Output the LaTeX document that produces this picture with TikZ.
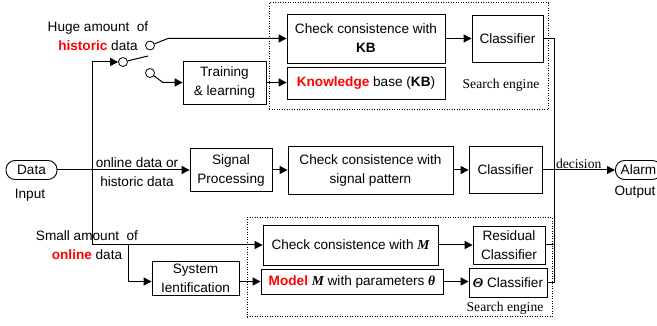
\documentclass[tikz,border=0pt]{standalone}
\usepackage{fontspec}
\setmainfont{Liberation Sans}
\newfontfamily\serifft{Liberation Serif}
\usetikzlibrary{arrows.meta}
\newcommand{\mathv}[1]{{\serifft\bfseries\itshape #1}}
\begin{document}
\begin{tikzpicture}[x=1pt,y=-1pt,
  every node/.style={font=\fontsize{13.6}{19}\selectfont, inner sep=1pt, align=center},
  box/.style={draw, line width=0.8pt},
  pill/.style={draw, rounded corners=9pt, line width=0.9pt},
  zone/.style={draw, line width=1pt, dash pattern=on 1pt off 1.5pt},
  contact/.style={draw, circle, fill=white, minimum size=9pt, inner sep=0pt, line width=0.8pt},
  conn/.style={line width=1pt, -{Triangle[length=8pt,width=8pt]}},
  wire/.style={line width=1pt},
  lab/.style={font={\serifft\fontsize{13.6}{19}\selectfont}},
]
\useasboundingbox (0,0) rectangle (657,326);

% search engine zones
\node[zone, minimum width=279, minimum height=107] (zoneA) at (408.5,56.5) {};
\node[zone, minimum width=305, minimum height=99] (zoneB) at (399.5,267.5) {};

% top branch
\node[box, minimum width=158, minimum height=49] (ckKB) at (366,38.5) {Check consistence with\\\textbf{KB}};
\node[box, minimum width=158, minimum height=32] (kb) at (366,83) {{\color{red}\bfseries Knowledge} base (\textbf{KB})};
\node[box, minimum width=71, minimum height=47] (cls1) at (507.5,38.5) {Classifier};
\node[box, minimum width=83, minimum height=43] (train) at (224.5,82.5) {Training\\\& learning};
\node[lab] (se1) at (501,85) {Search engine};

% middle branch
\node[pill, minimum width=51, minimum height=19] (data) at (31.5,170) {Data};
\node[box, minimum width=82, minimum height=43] (sig) at (231,170) {Signal\\Processing};
\node[box, minimum width=165, minimum height=48] (ckSig) at (370.5,170) {Check consistence with\\signal pattern};
\node[box, minimum width=73, minimum height=47] (cls2) at (505.5,170) {Classifier};
\node[pill, minimum width=46, minimum height=19, anchor=west] (alarm) at (615,170) {Alarm};

% bottom branch
\node[box, minimum width=175, minimum height=40] (ckM) at (350.5,245) {Check consistence with \mathv{M}};
\node[box, minimum width=182, minimum height=25] (model) at (352,281.5) {{\color{red}\bfseries Model} \mathv{M} with parameters \mathv{θ}};
\node[box, minimum width=72, minimum height=38] (res) at (509,245) {Residual\\Classifier};
\node[box, minimum width=78, minimum height=29] (theta) at (508,282.5) {\mathv{Θ} Classifier};
\node[box, minimum width=87, minimum height=34] (sysid) at (195.5,278) {System\\Ientification};
\node[lab] (se2) at (505,308) {Search engine};

% labels
\node (lblHuge) at (98,36.5) {Huge amount\ \ of\\{\color{red}\bfseries historic} data};
\node (lblSmall) at (87,245.5) {Small amount\ \ of\\{\color{red}\bfseries online} data};
\node (lblOn) at (137,172.5) {online data or\\historic data};
\node (lblIn) at (30,195) {Input};
\node (lblOut) at (635,192) {Output};

% switch
\node[contact] (piv) at (123,62) {};
\node[contact] (ct) at (150,45.5) {};
\node[contact] (cb) at (150,73) {};
\coordinate (lev) at (148,56);
\coordinate (bend1) at (168,38.5);
\coordinate (bend2) at (163,82.5);
\draw[wire] (piv) -- (lev);
\draw[conn] (ct) -- (bend1) -- (ckKB.west);
\draw[conn] (cb) -- (bend2) -- (train.west);
\draw[conn] (train.east) -- (train.east -| kb.west);
\draw[conn] (ckKB) -- (cls1);

% input bus
\coordinate (busTop) at (92,62);
\coordinate (busBot) at (92,245);
\coordinate (br) at (128,245);
\draw[conn] (busTop) -- (piv);
\draw[wire] (busTop) -- (busBot);
\draw[conn] (data) -- (sig);
\draw[conn] (busBot) -- (ckM.west);
\draw[conn] (br) |- (sysid.west |- model.center);
\draw[conn] (sysid.east |- model.center) -- (model.west);

% middle chain
\draw[conn] (sig) -- (ckSig);
\draw[conn] (ckSig) -- (cls2);
\draw[conn] (cls2) -- node[lab, above] {decision} (alarm);

% bottom chain
\draw[conn] (ckM) -- (res);
\draw[conn] (model.east) -- (model.east -| theta.west);

% right bus
\coordinate (rbT) at (554,38.5);
\draw[wire] (cls1.east) -- (rbT) |- (theta.east);
\draw[wire] (res.east) -- (res.east -| rbT);
\end{tikzpicture}
\end{document}
